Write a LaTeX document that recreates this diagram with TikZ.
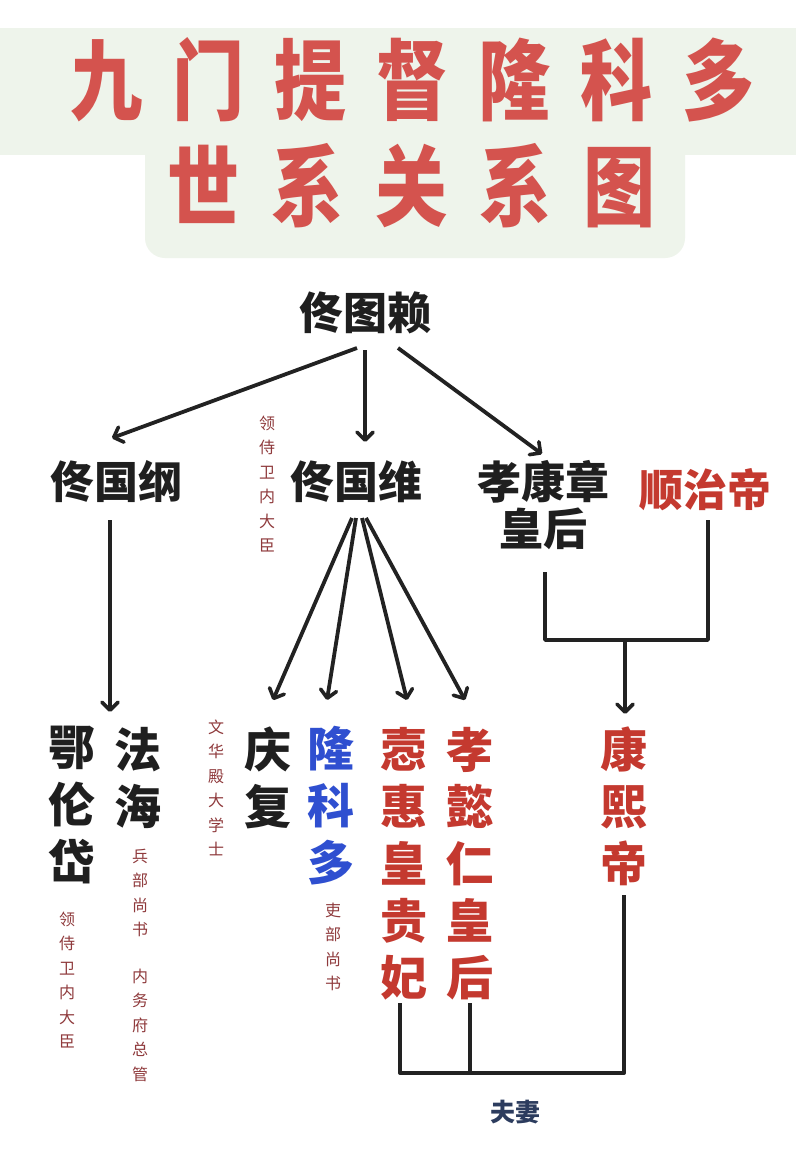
\documentclass[tikz,border=0pt]{standalone}
\usepackage{fontspec}
\newfontfamily\cjk{Noto Sans CJK SC}
\usetikzlibrary{arrows.meta}
\definecolor{titlered}{HTML}{D4534E}
\definecolor{titlebg}{HTML}{EEF4EB}
\definecolor{linec}{HTML}{222222}
\definecolor{namered}{HTML}{C4392F}
\definecolor{nameblue}{HTML}{2F4FD0}
\definecolor{labred}{HTML}{8F3A3C}
\definecolor{navy}{HTML}{2C3C5E}
\newcommand\tch[2]{\makebox[#1pt]{\scalebox{0.82}[1]{#2}}}
\begin{document}
\begin{tikzpicture}[x=1pt,y=-1pt,
  conn/.style={line width=3.8pt, draw=linec, line join=round},
  arr/.style={conn, -{Straight Barb[length=8pt,width=16pt,line width=3.6pt,round]}},
  title/.style={font=\cjk\bfseries\fontsize{88}{96}\selectfont, text=titlered, inner sep=0pt},
  big/.style={font=\cjk\bfseries\fontsize{44}{47}\selectfont, text=black!88, inner sep=0pt, align=center},
  vbig/.style={font=\cjk\bfseries\fontsize{47}{57}\selectfont, inner sep=0pt, align=center},
  vsmall/.style={font=\cjk\fontsize{16}{24.5}\selectfont, text=labred, inner sep=0pt, align=center},
]
\useasboundingbox (0,0) rectangle (796,1172);
\fill[white] (0,0) rectangle (796,1172);
% title background
\fill[titlebg] (0,28) rectangle (796,155);
\fill[titlebg, rounded corners=20pt] (145,120) rectangle (685,258);
% title
\node[title] (t1) at (413,80) {\tch{102}{九}\tch{102}{门}\tch{102}{提}\tch{102}{督}\tch{102}{隆}\tch{102}{科}\tch{102}{多}};
\node[title] (t2) at (412,186) {\tch{104}{世}\tch{104}{系}\tch{104}{关}\tch{104}{系}\tch{104}{图}};

% generation 1
\node[big] (tulai) at (365,313) {佟图赖};
% generation 2
\node[big] (guogang) at (116,482) {佟国纲};
\node[big] (guowei) at (356,482) {佟国维};
\node[big] (xkz) at (543,505) {孝康章\\皇后};
\node[big, text=namered] (shunzhi) at (705,490) {顺治帝};
\node[vsmall] (l1) at (267,484) {领\\侍\\卫\\内\\大\\臣};

% generation 3
\node[vbig, text=black!88] (elundai) at (72,805) {鄂\\伦\\岱};
\node[vbig, text=black!88] (fahai) at (138,778) {法\\海};
\node[vsmall] (l2) at (140,893) {兵\\部\\尚\\书};
\node[vsmall] (l3) at (140,1025) {内\\务\\府\\总\\管};
\node[vsmall] (l4) at (67,980) {领\\侍\\卫\\内\\大\\臣};
\node[vsmall] (l5) at (216,788) {文\\华\\殿\\大\\学\\士};
\node[vbig, text=black!88] (qingfu) at (268,778) {庆\\复};
\node[vbig, text=nameblue] (longkeduo) at (331,806) {隆\\科\\多};
\node[vsmall] (l6) at (333,947) {吏\\部\\尚\\书};
\node[vbig, text=namered] (quehui) at (404,864) {悫\\惠\\皇\\贵\\妃};
\node[vbig, text=namered] (xiaoyi) at (470,864) {孝\\懿\\仁\\皇\\后};
\node[vbig, text=namered] (kangxi) at (624,806) {康\\熙\\帝};
\node[font=\cjk\bfseries\fontsize{25}{28}\selectfont, text=navy, inner sep=0pt] (fuqi) at (515,1112) {夫妻};

% connector points
\coordinate (a1) at (357,348);
\coordinate (a2) at (112,438);
\coordinate (b1) at (365,350);
\coordinate (b2) at (365,442);
\coordinate (c1) at (398,348);
\coordinate (c2) at (542,454);
\coordinate (d1) at (110,520);
\coordinate (d2) at (110,712);
\coordinate (g1) at (352,518);
\coordinate (g2) at (356,518);
\coordinate (g3) at (362,518);
\coordinate (g4) at (366,518);
\coordinate (e1) at (273,700);
\coordinate (e2) at (327,700);
\coordinate (e3) at (407,700);
\coordinate (e4) at (465,700);
\coordinate (k1) at (545,572);
\coordinate (k2) at (708,520);
\coordinate (kj) at (545,640);
\coordinate (sj) at (708,640);
\coordinate (mj) at (625,640);
\coordinate (m2) at (625,714);
\coordinate (q1) at (400,1003);
\coordinate (x1) at (470,1003);
\coordinate (h1) at (624,895);
\coordinate (qb) at (400,1073);
\coordinate (xb) at (470,1073);
\coordinate (hb) at (624,1073);

\draw[arr] (a1) -- (a2);
\draw[arr] (b1) -- (b2);
\draw[arr] (c1) -- (c2);
\draw[arr] (d1) -- (d2);
\draw[arr] (g1) -- (e1);
\draw[arr] (g2) -- (e2);
\draw[arr] (g3) -- (e3);
\draw[arr] (g4) -- (e4);
\draw[conn] (k1) -- (kj) -- (sj) -- (k2);
\draw[arr] (mj) -- (m2);
\draw[conn] (q1) -- (qb) -- (hb) -- (h1);
\draw[conn] (x1) -- (xb);
\end{tikzpicture}
\end{document}
